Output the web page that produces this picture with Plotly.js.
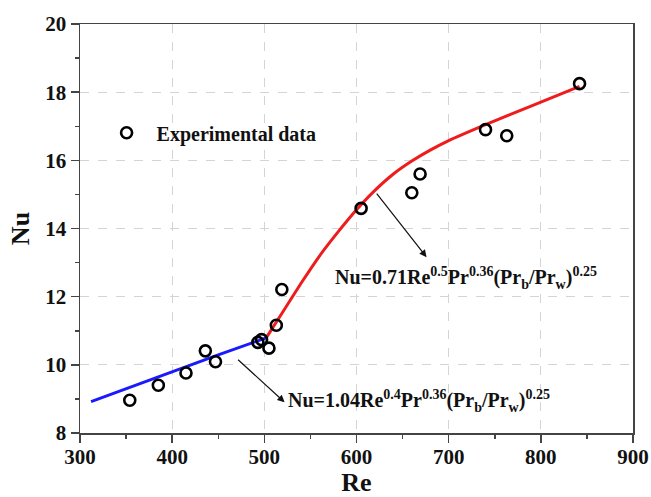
<!DOCTYPE html>
<html>
<head>
<meta charset="utf-8">
<script src="https://cdn.plot.ly/plotly-3.0.1.min.js"></script>
<style>html,body{margin:0;padding:0;background:#fff;}#chart{width:651px;height:497px;}</style>
</head>
<body>
<div id="chart"></div>
<script>
// Experimental data
const expRe = [354, 385, 415, 436, 447, 493, 497, 505, 513, 519, 605, 660, 669, 740, 763, 842];
const expNu = [8.96, 9.40, 9.76, 10.41, 10.09, 10.66, 10.74, 10.49, 11.16, 12.21, 14.59, 15.05, 15.60, 16.90, 16.72, 18.25];
// Low-Re correlation (blue)
const lowRe = [312, 350, 400, 450, 502];
const lowNu = [8.92, 9.30, 9.79, 10.29, 10.79];
// High-Re correlation (red)
const highRe = [502, 520, 540, 560, 580, 600, 620, 640, 660, 680, 700, 740, 790, 842];
const highNu = [10.79, 11.55, 12.4, 13.2, 13.9, 14.55, 15.12, 15.6, 15.98, 16.3, 16.58, 17.05, 17.6, 18.17];
// Axis ticks
const xTicks = [300, 400, 500, 600, 700, 800, 900];
const yTicks = [8, 10, 12, 14, 16, 18, 20];
// Labels
const legendLabel = 'Experimental data';
const eqHigh = 'Nu=0.71Re<sup>0.5</sup>Pr<sup>0.36</sup>(Pr<sub>b</sub>/Pr<sub>w</sub>)<sup>0.25</sup>';
const eqLow = 'Nu=1.04Re<sup>0.4</sup>Pr<sup>0.36</sup>(Pr<sub>b</sub>/Pr<sub>w</sub>)<sup>0.25</sup>';

const SERIF = '"Liberation Serif", "Times New Roman", serif';

const traces = [
  {x: lowRe, y: lowNu, mode: 'lines', line: {color: '#1a1aff', width: 3}, showlegend: false, hoverinfo: 'skip'},
  {x: highRe, y: highNu, mode: 'lines', line: {color: '#ee1c1c', width: 3, shape: 'spline', smoothing: 0.5}, showlegend: false, hoverinfo: 'skip'},
  {x: expRe, y: expNu, mode: 'markers', name: legendLabel,
   marker: {symbol: 'circle-open', size: 11, color: '#000', line: {width: 2.6, color: '#000'}}}
];

const axisCommon = {
  showline: true, linecolor: '#444', linewidth: 1.5, mirror: true,
  ticks: 'outside', ticklen: 8, tickwidth: 1.5, tickcolor: '#444',
  showgrid: true, gridcolor: '#d4d4d4', griddash: 'dash', gridwidth: 1,
  zeroline: false,
  tickfont: {family: SERIF, size: 21, color: '#111', weight: 'bold'}
};

const layout = {
  width: 651, height: 497,
  margin: {l: 80, r: 17.5, t: 24.3, b: 64.3},
  paper_bgcolor: '#fff', plot_bgcolor: '#fff',
  showlegend: true,
  legend: {x: 0.030, y: 0.734, xanchor: 'left', yanchor: 'middle', bgcolor: 'rgba(0,0,0,0)',
           font: {family: SERIF, size: 20, color: '#111', weight: 'bold'}, itemwidth: 50},
  xaxis: Object.assign({}, axisCommon, {
    range: [300, 900], tickvals: xTicks, ticktext: xTicks.map(String), ticklabelstandoff: -4,
    minor: {dtick: 50, tick0: 300, ticks: 'outside', ticklen: 4, tickwidth: 1.5, tickcolor: '#444', showgrid: false},
    title: {text: 'Re', font: {family: SERIF, size: 26, color: '#111', weight: 'bold'}, standoff: 14}
  }),
  yaxis: Object.assign({}, axisCommon, {
    range: [8, 20], tickvals: yTicks, ticktext: yTicks.map(String),
    minor: {dtick: 1, tick0: 8, ticks: 'outside', ticklen: 4, tickwidth: 1.5, tickcolor: '#444', showgrid: false},
    title: {text: 'Nu', font: {family: SERIF, size: 26, color: '#111', weight: 'bold'}, standoff: 8}
  }),
  annotations: [
    {x: 676, y: 13.16, xref: 'x', yref: 'y', ax: -51, ay: -65, text: '', showarrow: true,
     arrowhead: 2, arrowsize: 1.2, arrowwidth: 1.2, arrowcolor: '#111'},
    {x: 574, y: 12.55, xref: 'x', yref: 'y', xanchor: 'left', yanchor: 'middle', showarrow: false,
     text: eqHigh, font: {family: SERIF, size: 20, color: '#111', weight: 'bold'}},
    {x: 522, y: 8.90, xref: 'x', yref: 'y', ax: -48, ay: -44, text: '', showarrow: true,
     arrowhead: 2, arrowsize: 1.2, arrowwidth: 1.2, arrowcolor: '#111'},
    {x: 523, y: 8.93, xref: 'x', yref: 'y', xanchor: 'left', yanchor: 'middle', showarrow: false,
     text: eqLow, font: {family: SERIF, size: 20, color: '#111', weight: 'bold'}}
  ]
};

Plotly.newPlot('chart', traces, layout, {displayModeBar: false, staticPlot: true});
</script>
</body>
</html>
